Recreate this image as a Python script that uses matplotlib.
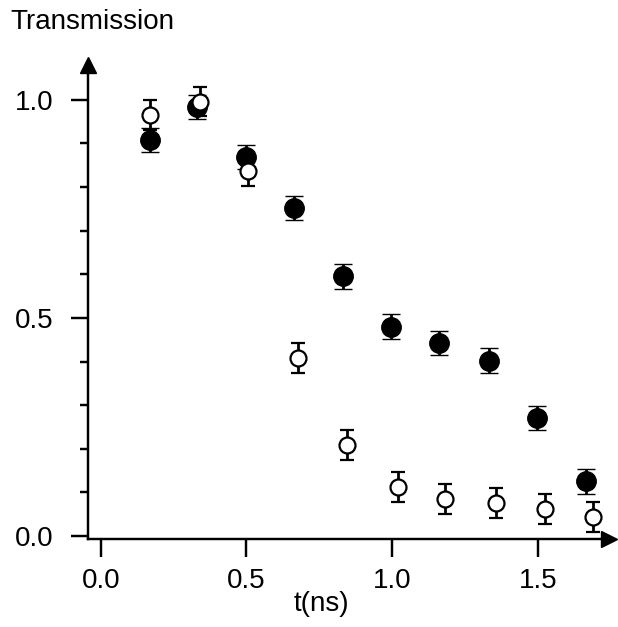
import numpy as np
import matplotlib.pyplot as plt

plt.rcParams['font.family'] = ['Liberation Sans', 'DejaVu Sans']

# time points (ns) and transmission for the two data sets
t_filled = [0.169, 0.33, 0.50, 0.664, 0.83, 0.995, 1.16, 1.333, 1.498, 1.664]
tr_filled = [0.908, 0.984, 0.869, 0.752, 0.595, 0.480, 0.443, 0.402, 0.270, 0.125]
err_filled = [0.028, 0.028, 0.028, 0.028, 0.028, 0.028, 0.028, 0.028, 0.028, 0.028]

t_open = [0.169, 0.34, 0.506, 0.678, 0.846, 1.021, 1.183, 1.358, 1.524, 1.69]
tr_open = [0.966, 0.996, 0.837, 0.408, 0.209, 0.113, 0.085, 0.075, 0.062, 0.044]
err_open = [0.034, 0.034, 0.034, 0.034, 0.034, 0.034, 0.034, 0.034, 0.034, 0.034]

xticks = [0.0, 0.5, 1.0, 1.5]
yticks = [0.0, 0.5, 1.0]

fig = plt.figure(figsize=(6.18, 6.27), dpi=100)
ax = fig.add_axes([0.1424, 0.1404, 0.843, 0.756])

ax.errorbar(t_filled, tr_filled, yerr=err_filled, fmt='o', color='black',
            ms=14, mfc='black', mec='black', mew=1, elinewidth=2,
            capsize=6.5, capthick=2.5)
ax.errorbar(t_open, tr_open, yerr=err_open, fmt='o', color='black',
            ms=11.5, mfc='white', mec='black', mew=1.6, elinewidth=2,
            capsize=5, capthick=2.5)

ax.set_xlim(-0.0436, 1.744)
ax.set_ylim(-0.0069, 1.080)

for s in ['top', 'right']:
    ax.spines[s].set_visible(False)
for s in ['left', 'bottom']:
    ax.spines[s].set_linewidth(1.75)

# arrow heads on the axis ends
ax.plot(1, 0, '>', color='black', ms=12, transform=ax.transAxes, clip_on=False)
ax.plot(0, 1, '^', color='black', ms=12, transform=ax.transAxes, clip_on=False)

ax.set_xticks(xticks)
ax.set_xticklabels(['%.1f' % v for v in xticks])
ax.set_yticks(yticks)
ax.set_yticklabels(['%.1f' % v for v in yticks])
ax.set_yticks(np.arange(0, 1.05, 0.1), minor=True)
ax.tick_params(axis='both', labelsize=20, width=1.75, direction='out')
ax.tick_params(axis='x', length=13, pad=8)
ax.tick_params(axis='y', which='major', length=12.5, pad=12)
ax.tick_params(axis='y', which='minor', length=6, width=1.75)

ax.set_xlabel('t(ns)', fontsize=20)
ax.xaxis.set_label_coords(0.449, -0.11)

fig.text(0.016, 0.965, 'Transmission', fontsize=20, ha='left', va='center')

fig.savefig('out.png', dpi=100)
